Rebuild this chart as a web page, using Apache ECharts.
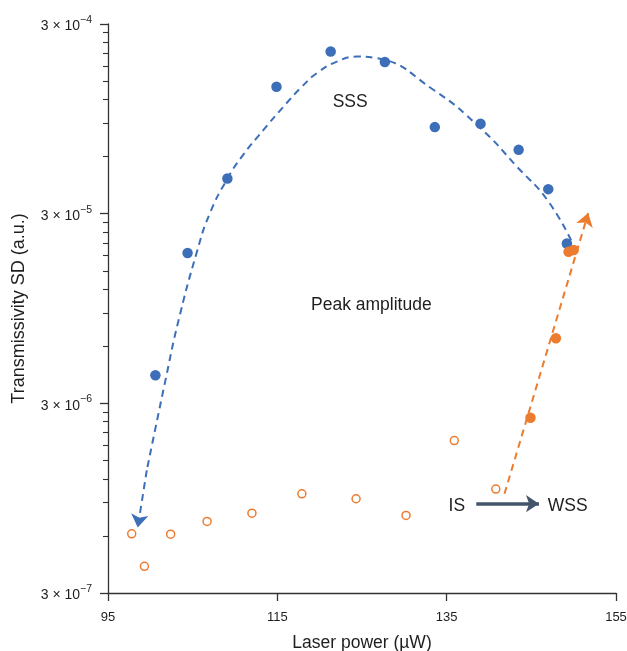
<!DOCTYPE html>
<html><head><meta charset="utf-8">
<script src="https://cdn.jsdelivr.net/npm/echarts@6/dist/echarts.min.js"></script>
<style>html,body{margin:0;padding:0;background:#fff}#c{width:627px;height:651px}</style>
</head><body><div id="c"></div>
<script>
// ---- data ----
const sssX = [100.6, 104.4, 109.1, 114.9, 121.3, 127.7, 133.6, 139.0, 143.5, 147.0, 149.2];
const sssY = [4.22e-6, 1.86e-5, 4.60e-5, 1.40e-4, 2.15e-4, 1.89e-4, 8.58e-5, 8.93e-5, 6.51e-5, 4.04e-5, 2.09e-5];
const wssX = [144.9, 147.9, 149.4, 150.0];
const wssY = [2.52e-6, 6.61e-6, 1.89e-5, 1.93e-5];
const isX = [97.8, 99.3, 102.4, 106.7, 112.0, 117.9, 124.3, 130.2, 135.9, 140.8];
const isY = [6.15e-7, 4.15e-7, 6.13e-7, 7.15e-7, 7.91e-7, 1.00e-6, 9.42e-7, 7.69e-7, 1.91e-6, 1.06e-6];
// guide curve for SSS (traced, right end -> left)
const sssCurveX = [149.70, 146.91, 143.37, 138.99, 133.43, 126.76, 124.40, 122.03, 119.66, 117.89, 115.71, 113.34, 110.79, 109.13, 107.04, 105.46, 103.25, 101.91, 99.58];
const sssCurveY = [2.17e-5, 3.53e-5, 5.27e-5, 8.47e-5, 1.35e-4, 1.98e-4, 2.02e-4, 1.90e-4, 1.65e-4, 1.40e-4, 1.098e-4, 8.27e-5, 5.98e-5, 4.61e-5, 3.02e-5, 1.86e-5, 7.93e-6, 4.22e-6, 1.33e-6];
const sssArrowX = [99.58, 98.51];
const sssArrowY = [1.33e-6, 6.65e-7];
const wssArrowX = [141.83, 151.72];
const wssArrowY = [1.00e-6, 3.02e-5];
const transArrowX = [138.5, 145.9];
const transArrowY = [8.87e-7, 8.87e-7];
// annotations
const noteText = ['SSS', 'Peak amplitude', 'IS', 'WSS'];
const noteX = [123.6, 126.1, 136.2, 149.3];
const noteY = [1.16e-4, 9.87e-6, 8.60e-7, 8.60e-7];
// axes
const xTicks = [95, 115, 135, 155];
const yTicks = [3e-7, 3e-6, 3e-5, 3e-4];
const yMinorMant = [6, 9, 12, 15, 18, 21, 24, 27];
const yMinorDecades = [1e-7, 1e-6, 1e-5];

// ---- build ----
const L = Math.log10;
const yMinor = [];
yMinorDecades.forEach(d => yMinorMant.forEach(m => yMinor.push(m * d)));
const pts = (xs, ys) => xs.map((x, i) => [x, L(ys[i])]);

const BLUE = '#3d6eb8', ORANGE = '#ec7c30', SLATE = '#44546a', TXT = '#1e1e1e';
const FONT = 'Liberation Sans, Arial, sans-serif';

function yLabel(v) {
  const e = Math.round(v - L(3));
  return '{b|3 \u00d7 10}{s|\u2212' + Math.abs(e) + '}';
}

const chart = echarts.init(document.getElementById('c'), null, {renderer: 'canvas'});
chart.setOption({
  animation: false,
  backgroundColor: '#fff',
  textStyle: {fontFamily: FONT},
  grid: {left: 108, right: 11, top: 24, bottom: 58, containLabel: false, outerBoundsMode: 'none'},
  xAxis: {
    type: 'value', min: 95, max: 155, interval: 20,
    name: 'Laser power (\u00b5W)', nameLocation: 'middle', nameGap: 41,
    nameTextStyle: {fontSize: 17.5, color: TXT, fontFamily: FONT},
    axisLine: {lineStyle: {color: '#333', width: 1.3}},
    axisTick: {show: true, length: 8, customValues: xTicks, lineStyle: {color: '#333', width: 1.3}},
    axisLabel: {customValues: xTicks, fontSize: 13, color: TXT, margin: 18, fontFamily: FONT},
    splitLine: {show: false}
  },
  yAxis: [{
    type: 'value', min: L(yTicks[0]), max: L(yTicks[yTicks.length - 1]),
    name: 'Transmissivity SD (a.u.)', nameLocation: 'middle', nameGap: 80,
    nameTextStyle: {fontSize: 18, color: TXT, fontFamily: FONT},
    axisLine: {show: true, lineStyle: {color: '#333', width: 1.3}},
    axisTick: {show: true, length: 8, customValues: yTicks.map(L), lineStyle: {color: '#333', width: 1.3}},
    axisLabel: {
      customValues: yTicks.map(L), margin: 16, formatter: yLabel,
      rich: {
        b: {fontSize: 14, color: TXT, fontFamily: FONT, verticalAlign: 'bottom'},
        s: {fontSize: 10.5, color: TXT, fontFamily: FONT, verticalAlign: 'top', padding: [0, 0, 8, 0]}
      }
    },
    splitLine: {show: false}
  }, {
    type: 'value', position: 'left', min: L(yTicks[0]), max: L(yTicks[yTicks.length - 1]),
    axisLine: {show: false},
    axisTick: {show: true, length: 5, customValues: yMinor.map(L), lineStyle: {color: '#333', width: 1.1}},
    axisLabel: {show: false},
    splitLine: {show: false}
  }],
  series: [
    {
      type: 'line', data: pts(sssCurveX, sssCurveY), smooth: 0.5, showSymbol: false, symbol: 'none',
      lineStyle: {color: BLUE, width: 2, type: [7, 5], opacity: 1}, silent: true, z: 2
    },
    {
      type: 'lines', coordinateSystem: 'cartesian2d', polyline: false,
      symbol: ['none', 'arrow'], symbolSize: [10, 13],
      lineStyle: {color: BLUE, width: 2, type: [7, 5], curveness: 0, opacity: 1},
      data: [{coords: pts(sssArrowX, sssArrowY)}], silent: true, z: 2
    },
    {
      type: 'lines', coordinateSystem: 'cartesian2d', polyline: false,
      symbol: ['none', 'arrow'], symbolSize: [10, 13],
      lineStyle: {color: ORANGE, width: 2, type: [7, 5], curveness: 0, opacity: 1},
      data: [{coords: pts(wssArrowX, wssArrowY)}], silent: true, z: 2
    },
    {
      type: 'lines', coordinateSystem: 'cartesian2d', polyline: false,
      symbol: ['none', 'arrow'], symbolSize: [12, 13],
      lineStyle: {color: SLATE, width: 3.5, curveness: 0, opacity: 1},
      data: [{coords: pts(transArrowX, transArrowY)}], silent: true, z: 2
    },
    {
      type: 'scatter', data: pts(sssX, sssY), symbol: 'circle', symbolSize: 10.5,
      itemStyle: {color: BLUE, opacity: 1}, z: 3
    },
    {
      type: 'scatter', data: pts(isX, isY), symbol: 'circle', symbolSize: 8,
      itemStyle: {color: '#fff', borderColor: ORANGE, borderWidth: 1.5, opacity: 1}, z: 3
    },
    {
      type: 'scatter', data: pts(wssX, wssY), symbol: 'circle', symbolSize: 10.5,
      itemStyle: {color: ORANGE, opacity: 1}, z: 4
    },
    {
      type: 'scatter', symbolSize: 1, itemStyle: {color: 'rgba(0,0,0,0)', opacity: 1}, silent: true, z: 5,
      data: noteText.map((t, i) => ({name: t, value: [noteX[i], L(noteY[i])]})),
      label: {show: true, position: 'inside', formatter: p => p.name, fontSize: 17.5, color: TXT, fontFamily: FONT, opacity: 1}
    }
  ]
});
</script></body></html>
